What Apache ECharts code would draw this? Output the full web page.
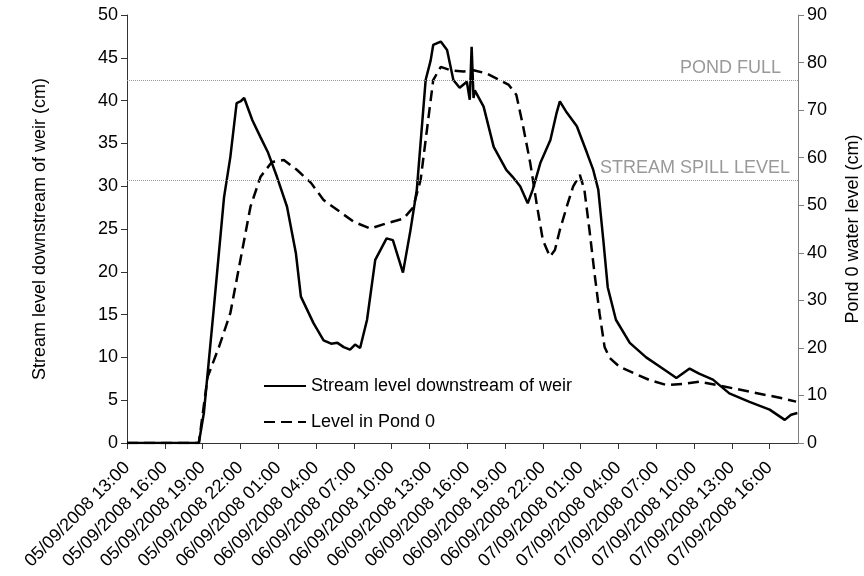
<!DOCTYPE html>
<html>
<head>
	<meta charset="utf-8"/>
	<title>Stream and pond levels</title>
	<style>
		* { margin: 0; padding: 0; }
		body { background: #fff; }
	</style>
</head>
<body>
	<div id="myChart" style="width: 864px;height:576px;"></div>

	<script src="https://cdn.jsdelivr.net/npm/echarts@6/dist/echarts.min.js"></script>
	<script>
		// hours after 05/09/2008 13:00
		var streamHours = [0, 5.7, 6.1, 6.9, 7.7, 8.2, 8.7, 9.0, 9.3, 9.95, 10.6, 11.2, 11.9, 12.7, 13.4, 13.8, 14.8, 15.6, 16.2, 16.7, 17.2, 17.7, 18.1, 18.5, 19.05, 19.7, 20.6, 21.1, 21.9, 22.5, 23.0, 23.7, 24.1, 24.3, 24.9, 25.4, 25.9, 26.4, 26.97, 27.2, 27.35, 27.5, 27.6, 28.3, 29.1, 30.1, 30.6, 31.2, 31.8, 32.2, 32.8, 33.6, 34.1, 34.35, 34.9, 35.7, 36.5, 37.0, 37.4, 37.8, 38.15, 38.8, 39.9, 41.2, 42.3, 43.0, 43.6, 44.65, 45.4, 46.5, 47.8, 49.4, 51.0, 52.2, 52.7, 53.2];
		var streamLevel = [0, 0, 3.5, 15.9, 28.7, 33.4, 39.7, 39.9, 40.3, 37.7, 35.7, 33.9, 31.1, 27.6, 22.2, 17.1, 14.0, 12.0, 11.6, 11.7, 11.2, 10.9, 11.5, 11.1, 14.4, 21.4, 23.9, 23.7, 19.9, 24.9, 29.6, 42.4, 44.7, 46.5, 46.9, 45.9, 42.4, 41.5, 42.2, 40.1, 46.3, 40.3, 41.2, 39.3, 34.6, 31.9, 31.1, 30.0, 28.0, 29.6, 32.7, 35.4, 38.6, 39.9, 38.6, 37.0, 33.9, 31.9, 29.6, 23.7, 18.2, 14.4, 11.7, 10.0, 8.9, 8.2, 7.6, 8.7, 8.1, 7.4, 5.8, 4.8, 3.9, 2.7, 3.3, 3.5];

		var pondHours = [0, 5.7, 6.4, 7.3, 8.2, 9.0, 9.8, 10.6, 11.5, 12.45, 13.5, 14.6, 15.6, 16.9, 18.0, 19.3, 20.6, 21.95, 22.7, 23.3, 23.8, 24.3, 24.9, 25.65, 26.7, 27.5, 28.55, 29.6, 30.3, 30.9, 31.45, 32.0, 32.5, 33.0, 33.56, 33.96, 34.35, 34.9, 35.4, 35.94, 36.3, 36.7, 37.1, 37.5, 37.9, 38.3, 39.1, 40.2, 41.5, 42.8, 44.1, 45.4, 46.8, 48.1, 49.4, 50.7, 52.0, 53.1];
		var pondLevel = [0, 0, 13.9, 20.2, 27.3, 38.5, 49.7, 56.0, 59.1, 59.5, 57.4, 54.7, 51.1, 48.6, 46.5, 45.1, 46.2, 47.2, 49.5, 55.3, 65.8, 76.3, 79.1, 78.4, 78.1, 78.4, 77.7, 76.3, 75.3, 73.2, 66.4, 58.9, 50.5, 42.7, 39.2, 40.6, 44.8, 49.7, 53.9, 56.4, 53.2, 44.8, 35.7, 27.3, 20.2, 17.9, 16.0, 14.7, 13.2, 12.2, 12.4, 12.9, 12.2, 11.5, 10.8, 10.1, 9.4, 8.7];

		var pondFull = 42.4;      // on the stream axis
		var spillLevel = 30.7;

		function pairs(xs, ys) {
			return xs.map(function (x, i) { return [x, ys[i]]; });
		}
		function pad(n) { return n < 10 ? '0' + n : '' + n; }
		function timeLabel(h) {
			if (h % 3 !== 0) return '';
			var total = 13 + h;
			var day = 5 + Math.floor(total / 24);
			return pad(day) + '/09/2008 ' + pad(total % 24) + ':00';
		}

		var font = 'Liberation Sans';
		var myChart = echarts.init(document.getElementById('myChart'));

		var option = {
			animation: false,
			textStyle: { fontFamily: font },
			grid: { left: 127, right: 66, top: 15, bottom: 133, outerBoundsMode: 'none', containLabel: false },
			legend: {
				orient: 'vertical',
				left: 258,
				top: 372,
				itemWidth: 42,
				itemHeight: 14,
				itemGap: 18,
				itemStyle: { opacity: 0 },
				textStyle: { fontSize: 18, color: '#000', fontFamily: font },
				data: ['Stream level downstream of weir', 'Level in Pond 0']
			},
			xAxis: {
				type: 'value',
				min: 0,
				max: 53.25,
				interval: 3,
				axisLine: { lineStyle: { color: '#333', width: 1 } },
				axisTick: { length: 6, lineStyle: { color: '#333' } },
				splitLine: { show: false },
				axisLabel: {
					rotate: 45,
					margin: 22,
					fontSize: 18,
					color: '#000',
					showMaxLabel: false,
					formatter: timeLabel
				}
			},
			yAxis: [
				{
					type: 'value',
					min: 0,
					max: 50,
					interval: 5,
					name: 'Stream level downstream of weir (cm)',
					nameLocation: 'middle',
					nameRotate: 90,
					nameGap: 78,
					nameTextStyle: { fontSize: 18, color: '#000' },
					axisLine: { show: true, lineStyle: { color: '#333' } },
					axisTick: { show: true, length: 6, lineStyle: { color: '#333' } },
					splitLine: { show: false },
					axisLabel: { fontSize: 18, color: '#000', margin: 9 }
				},
				{
					type: 'value',
					min: 0,
					max: 90,
					interval: 10,
					position: 'right',
					name: 'Pond 0 water level (cm)',
					nameLocation: 'middle',
					nameRotate: 90,
					nameGap: 46,
					nameTextStyle: { fontSize: 18, color: '#000' },
					axisLine: { show: true, lineStyle: { color: '#808080' } },
					axisTick: { show: true, length: 6, lineStyle: { color: '#808080' } },
					splitLine: { show: false },
					axisLabel: { fontSize: 18, color: '#000', margin: 9 }
				}
			],
			series: [
				{
					name: 'Stream level downstream of weir',
					type: 'line',
					yAxisIndex: 0,
					symbol: 'none',
					lineStyle: { color: '#000', width: 2.5 },
					itemStyle: { color: '#000' },
					data: pairs(streamHours, streamLevel),
					markLine: {
						silent: true,
						symbol: 'none',
						lineStyle: { color: '#999', type: 'dotted', width: 1 },
						label: {
							position: 'insideEndTop',
							color: '#999',
							fontSize: 18,
							fontFamily: font
						},
						data: [
							{ yAxis: pondFull, label: { formatter: 'POND FULL', distance: [17, 3] } },
							{ yAxis: spillLevel, label: { formatter: 'STREAM SPILL LEVEL', distance: [8, 3] } }
						]
					}
				},
				{
					name: 'Level in Pond 0',
					type: 'line',
					yAxisIndex: 1,
					symbol: 'none',
					lineStyle: { color: '#000', width: 2.5, type: [11, 6] },
					itemStyle: { color: '#000' },
					data: pairs(pondHours, pondLevel)
				}
			]
		};

		myChart.setOption(option);
	</script>
</body>
</html>
